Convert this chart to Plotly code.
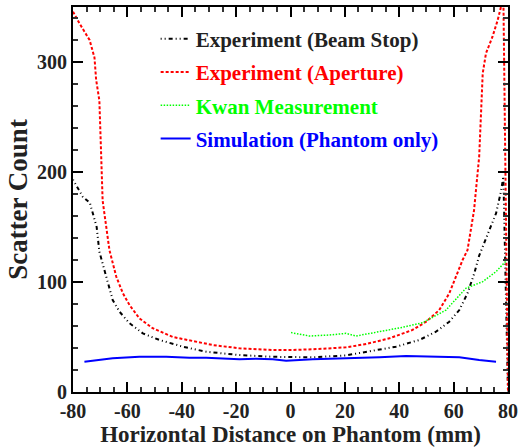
import plotly.graph_objects as go

# ---- data ----
beam_x = [-80, -76.4, -73.8, -71.3, -70.3, -67.8, -65.4, -62.9, -59.2, -54.3, -48.2, -39.6, -31, -18.8, -6.5,
          0.4, 8.2, 20.4, 30.2, 38.8, 47.4, 53.5, 58.4, 62.1, 65.1, 67.6, 69.4, 73.1, 75.6, 77.4, 78.3, 80]
beam_y = [193, 177.5, 172, 150, 127.5, 105, 83.6, 73, 62.5, 53.3, 47.3, 41.2, 36.6, 33.6, 32,
          31.8, 31.5, 33.3, 37.3, 41.2, 47.3, 54.8, 63.9, 74.5, 89.7, 107.9, 124, 147, 162.4, 182, 196, 0]

aper_x = [-80, -77.6, -73.9, -72.1, -71.5, -70.3, -69.7, -69.1, -66.6, -64.1, -61.7, -59.2, -55.6, -50.7, -43.3,
          -37.2, -28.6, -18.8, -6.5, 0.4, 8.2, 20.4, 27.8, 36.4, 44.9, 49.9, 54.7, 58.4, 60.9, 63.3, 65.1,
          67.5, 69.4, 70.1, 70.7, 71.9, 74.3, 76.2, 77.4, 78.2, 80]
aper_y = [345.7, 335, 320, 304, 284, 265, 220, 174, 129, 105, 90, 79, 67, 58, 50,
          46.7, 42.7, 39.7, 38.2, 38.2, 38.8, 40.6, 43.6, 48.8, 56.4, 63.9, 74.5, 89.7, 104.8, 120, 129,
          165, 214, 265, 289.7, 307.9, 323, 338, 350, 380, 0]

kwan_x = [0.2, 6.9, 14.3, 20.4, 24.1, 32.7, 41.2, 48.6, 57.2, 64.5, 70.7, 75.6, 79.3, 80]
kwan_y = [54, 50.9, 51.8, 53.3, 50.9, 54.8, 58.8, 63, 74.5, 94.3, 100.3, 109.4, 120, 121]

sim_x = [-75.8, -65.4, -55.6, -45.7, -37.2, -31, -18.8, -12.7, -6.5, -1.6, 8.2, 20.4, 32.7, 42.5, 51.1,
         62.1, 69.4, 75.6]
sim_y = [27.5, 30.6, 32, 32, 31.2, 31.2, 29.7, 30.3, 29.7, 28.5, 29.7, 30.3, 31.5, 32.7, 32,
         31.5, 29, 27.5]

names = ["Experiment (Beam Stop)", "Experiment (Aperture)", "Kwan Measurement", "Simulation (Phantom only)"]
name_colors = ["#222222", "#ff0000", "#00ff00", "#0000ff"]
x_ticks = [-80, -60, -40, -20, 0, 20, 40, 60, 80]
y_ticks = [0, 100, 200, 300]

FONT = "Liberation Serif"

fig = go.Figure()
fig.add_trace(go.Scatter(x=beam_x, y=beam_y, mode="lines", name=names[0], legendgroup="a",
                         line=dict(color="black", width=2, dash="1px,3px,1px,3px,4px,3px")))
fig.add_trace(go.Scatter(x=aper_x, y=aper_y, mode="lines", name=names[1], legendgroup="b",
                         line=dict(color="#ff0000", width=2, dash="3px,2px")))
fig.add_trace(go.Scatter(x=kwan_x, y=kwan_y, mode="lines", name=names[2], legendgroup="c",
                         line=dict(color="#00ff00", width=1.5, dash="1.5px,1.5px")))
fig.add_trace(go.Scatter(x=sim_x, y=sim_y, mode="lines", name=names[3], legendgroup="d",
                         line=dict(color="#0000ff", width=2)))

axis_common = dict(
    showline=True, linecolor="black", linewidth=2, mirror="allticks",
    ticks="inside", ticklen=10, tickwidth=2, tickcolor="black",
    showgrid=False, zeroline=False, automargin=False,
    tickfont=dict(family=FONT, size=20, color="#222222"),
)

fig.update_xaxes(range=[-80, 80], tickvals=x_ticks, ticktext=[f"<b>{v}</b>" for v in x_ticks],
                 minor=dict(dtick=5, ticks="inside", ticklen=5, tickwidth=1.5, tickcolor="#333333"),
                 title=dict(text="<b>Horizontal Distance on Phantom (mm)</b>",
                            font=dict(family=FONT, size=23, color="#222222"), standoff=0),
                 **axis_common)
fig.update_yaxes(range=[0, 350], tickvals=y_ticks, ticktext=[f"<b>{v}</b>" for v in y_ticks],
                 minor=dict(dtick=20, ticks="inside", ticklen=5, tickwidth=1.5, tickcolor="#333333"),
                 title=dict(text="<b>Scatter Count</b>",
                            font=dict(family=FONT, size=27, color="#222222"), standoff=2),
                 **axis_common)

fig.update_layout(
    width=527, height=447,
    margin=dict(l=73, r=19, t=7, b=55),
    paper_bgcolor="white", plot_bgcolor="white",
    showlegend=True,
    legend=dict(x=0.19, y=0.97, xanchor="left", yanchor="top",
                bgcolor="rgba(0,0,0,0)", borderwidth=0,
                tracegroupgap=3, itemwidth=30,
                font=dict(family=FONT, size=21)),
)

for tr, col in zip(fig.data, name_colors):
    tr.name = f"<b><span style='color:{col}'>{tr.name}</span></b>"

fig.write_html("out.html", config={"displayModeBar": False},
               post_script="document.body.style.margin='0px';")
